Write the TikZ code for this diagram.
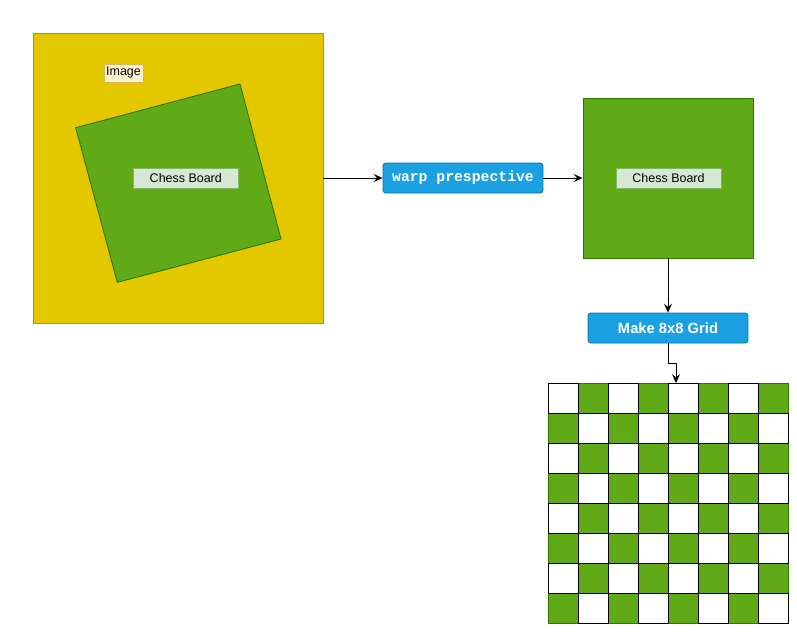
\documentclass[tikz,border=0pt]{standalone}
\usepackage{fontspec}
\setmainfont{Liberation Sans}
\setmonofont{Liberation Mono}
\usetikzlibrary{arrows.meta}

\definecolor{imgyellow}{HTML}{E3C800}
\definecolor{imgline}{HTML}{B09500}
\definecolor{boardgreen}{HTML}{60A917}
\definecolor{boardline}{HTML}{2D7600}
\definecolor{tagfill}{HTML}{D5E8D4}
\definecolor{tagline}{HTML}{82B366}
\definecolor{notefill}{HTML}{FFF2CC}
\definecolor{noteline}{HTML}{D6B656}
\definecolor{stepblue}{HTML}{1BA1E2}
\definecolor{stepline}{HTML}{006EAF}

\tikzset{
  imagebox/.style={draw=imgline, fill=imgyellow, line width=0.5pt, inner sep=0pt,
    minimum width=5.8cm, minimum height=5.8cm},
  boardbox/.style={draw=boardline, fill=boardgreen, line width=0.5pt, inner sep=0pt,
    minimum width=3.4cm, minimum height=3.2cm},
  tagbox/.style={draw=tagline, fill=tagfill, line width=0.5pt, inner sep=0pt,
    minimum width=2.1cm, minimum height=0.4cm, font=\fontsize{7.1}{8}\selectfont},
  notebox/.style={draw=noteline, fill=notefill, line width=0.5pt, inner sep=0pt,
    minimum width=0.78cm, minimum height=0.36cm, font=\fontsize{7.1}{8}\selectfont},
  stepbox/.style={draw=stepline, fill=stepblue, line width=0.5pt, inner sep=0pt,
    rounded corners=1.7pt, minimum width=3.2cm, minimum height=0.6cm, text=white},
  flow/.style={line width=0.55pt, -{Stealth[length=5pt,width=4.5pt,inset=1.8pt]}},
  greencell/.style={draw=boardline, fill=boardgreen, line width=0.5pt},
  whitecell/.style={draw=black, fill=white, line width=0.5pt}
}

\begin{document}
\begin{tikzpicture}[x=0.02cm,y=-0.02cm]
                        \useasboundingbox (0,0) rectangle (797,632);

                        % Drawing the input image
                        \draw (178,178) node (img) [imagebox] {};%
                        \draw (123.5,73) node (imgtag) [notebox] {Image};%

                        % Drawing the tilted board inside the image
                        \draw [draw=boardline, fill=boardgreen, line width=0.5pt]
                          (75.7,127.7) -- (240,84) -- (281,239) -- (117.3,282.3) -- cycle;%
                        \draw (185.8,178) node (tiltag) [tagbox] {Chess Board};%

                        % Drawing step warp prespective
                        \draw (463,178) node (warp) [stepbox,
                          font=\fontsize{8.4}{10}\selectfont\ttfamily\bfseries] {warp prespective};%

                        % Drawing the flat board
                        \draw (668,178) node (flat) [boardbox] {};%
                        \draw (668.5,178) node (flattag) [tagbox] {Chess Board};%

                        % Drawing step Make 8x8 Grid
                        \draw (668,328) node (mkgrid) [stepbox,
                          font=\fontsize{8.4}{10}\selectfont\bfseries] {Make 8x8 Grid};%

                        % Drawing the 8x8 grid, green cells first
                        \foreach \r in {0,...,7} {
                          \foreach \c in {0,...,7} {
                            \pgfmathtruncatemacro{\odd}{mod(\r+\c,2)}
                            \ifnum\odd=1
                              \draw [greencell] (548+30*\c,383+30*\r) rectangle ++(30,30);%
                            \fi
                          }
                        }
                        \foreach \r in {0,...,7} {
                          \foreach \c in {0,...,7} {
                            \pgfmathtruncatemacro{\odd}{mod(\r+\c,2)}
                            \ifnum\odd=0
                              \draw [whitecell] (548+30*\c,383+30*\r) rectangle ++(30,30);%
                            \fi
                          }
                        }
                        \coordinate (gridtop) at (676,383);

                        % Drawing the arrows
                        \draw [flow] (img.east) -- (warp.west);%
                        \draw [flow] (warp.east) -- (flat.west);%
                        \draw [flow] (flat.south) -- (mkgrid.north);%
                        \draw [flow] (mkgrid.south) -- ++(0,20) -| (gridtop);%
\end{tikzpicture}
\end{document}
